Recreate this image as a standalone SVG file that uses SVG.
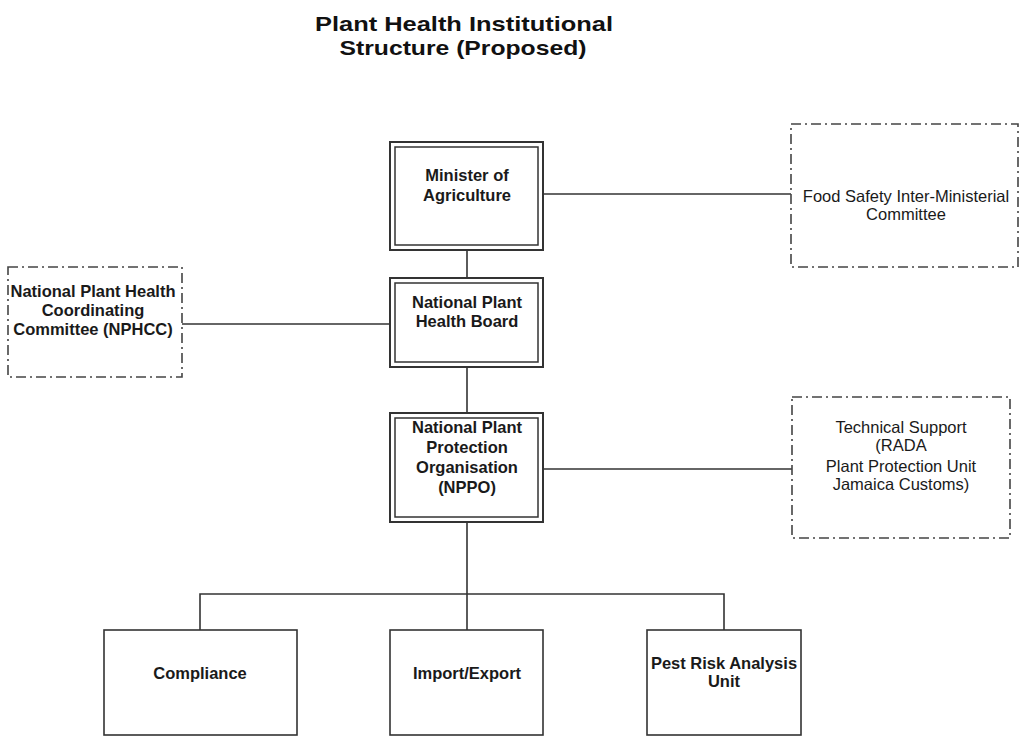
<svg xmlns="http://www.w3.org/2000/svg" width="1021" height="738" viewBox="0 0 1021 738">
<style>
.t{font-family:"Liberation Sans",Arial,sans-serif;font-size:16.5px;fill:#1a1a1a;text-anchor:middle}
.b{font-weight:bold}
.title{font-family:"Liberation Sans",Arial,sans-serif;font-size:21px;font-weight:bold;fill:#111;text-anchor:middle}
.box{fill:#fff;stroke:#333;stroke-width:1.6}
.outer{fill:#fff;stroke:#333;stroke-width:2}
.inner{fill:none;stroke:#333;stroke-width:1.5}
.dash{fill:#fff;stroke:#444;stroke-width:1.6;stroke-dasharray:10 4 2 4}
.c{stroke:#333;stroke-width:1.6;fill:none}
</style>
<rect width="1021" height="738" fill="#fff"/>
<g id="title">
<text class="title" x="464" y="31" textLength="298" lengthAdjust="spacingAndGlyphs">Plant Health Institutional</text>
<text class="title" x="463" y="55" textLength="247" lengthAdjust="spacingAndGlyphs">Structure (Proposed)</text>
</g>
<g id="connectors">
<line class="c" x1="467" y1="250" x2="467" y2="278"/>
<line class="c" x1="467" y1="367" x2="467" y2="413"/>
<line class="c" x1="467" y1="522" x2="467" y2="630"/>
<polyline class="c" points="200,630 200,594 724,594 724,630"/>
<line class="c" x1="543" y1="194" x2="791" y2="194"/>
<line class="c" x1="182" y1="324" x2="390" y2="324"/>
<line class="c" x1="543" y1="469" x2="792" y2="469"/>
</g>
<g id="minister">
<rect class="outer" x="390" y="142" width="153" height="108"/>
<rect class="inner" x="395" y="147" width="143" height="98"/>
<text class="t b" x="467" y="181">Minister of</text>
<text class="t b" x="467" y="201">Agriculture</text>
</g>
<g id="nphb">
<rect class="outer" x="390" y="278" width="153" height="89"/>
<rect class="inner" x="395" y="283" width="143" height="79"/>
<text class="t b" x="467" y="308">National Plant</text>
<text class="t b" x="467" y="327">Health Board</text>
</g>
<g id="nppo">
<rect class="outer" x="390" y="413" width="153" height="109"/>
<rect class="inner" x="395" y="418" width="143" height="99"/>
<text class="t b" x="467" y="433">National Plant</text>
<text class="t b" x="467" y="453">Protection</text>
<text class="t b" x="467" y="473">Organisation</text>
<text class="t b" x="467" y="493">(NPPO)</text>
</g>
<g id="food-safety">
<rect class="dash" x="791" y="124" width="227" height="143"/>
<text class="t" x="906" y="202">Food Safety Inter-Ministerial</text>
<text class="t" x="906" y="220">Committee</text>
</g>
<g id="nphcc">
<rect class="dash" x="8" y="267" width="174" height="110"/>
<text class="t b" x="93" y="297">National Plant Health</text>
<text class="t b" x="93" y="316">Coordinating</text>
<text class="t b" x="93" y="335">Committee (NPHCC)</text>
</g>
<g id="technical-support">
<rect class="dash" x="792" y="397" width="218" height="141"/>
<text class="t" x="901" y="433">Technical Support</text>
<text class="t" x="901" y="451">(RADA</text>
<text class="t" x="901" y="472">Plant Protection Unit</text>
<text class="t" x="901" y="490">Jamaica Customs)</text>
</g>
<g id="compliance">
<rect class="box" x="104" y="630" width="193" height="105"/>
<text class="t b" x="200" y="679">Compliance</text>
</g>
<g id="import-export">
<rect class="box" x="390" y="630" width="153" height="105"/>
<text class="t b" x="467" y="679">Import/Export</text>
</g>
<g id="pest-risk">
<rect class="box" x="647" y="630" width="154" height="105"/>
<text class="t b" x="724" y="669">Pest Risk Analysis</text>
<text class="t b" x="724" y="687">Unit</text>
</g>
</svg>
